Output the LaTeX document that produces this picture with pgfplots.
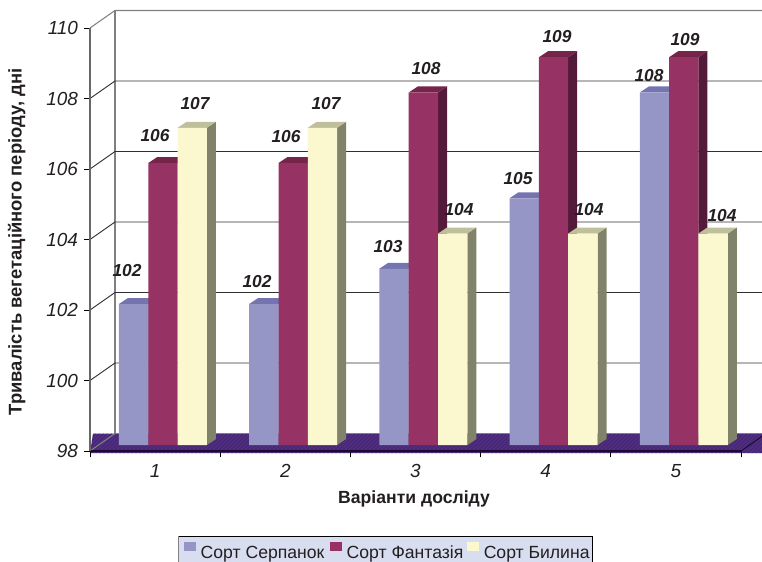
\documentclass[border=0pt]{standalone}
\usepackage{pgfplots}
\pgfplotsset{compat=1.18}
\usepackage{fontspec}
\usetikzlibrary{patterns}
\setmainfont{Liberation Sans}
\definecolor{txt}{HTML}{231F20}
\definecolor{bluef}{HTML}{9595C6}
\definecolor{bluet}{HTML}{7474B0}
\definecolor{blues}{HTML}{6F6F99}
\definecolor{magf}{HTML}{963264}
\definecolor{magt}{HTML}{742549}
\definecolor{mags}{HTML}{531A3A}
\definecolor{yelf}{HTML}{FBF8D0}
\definecolor{yelt}{HTML}{BFBF9C}
\definecolor{yels}{HTML}{80826A}
\definecolor{floorc}{HTML}{4F2E80}
\definecolor{floorm}{HTML}{422270}
\definecolor{floord}{HTML}{1A0A30}
\definecolor{wall}{HTML}{808080}
\definecolor{gridc}{HTML}{303030}
\definecolor{legbg}{HTML}{D8DEF0}
\pgfmathsetmacro\bw{0.2253}
\pgfmathsetmacro\ddx{0.0691}
\pgfmathsetmacro\ddy{0.1702}
\pgfplotsset{faceshift/.style={xshift=5.9pt,yshift=4.5pt}}
\newcommand\barfaces[5]{%
 \pgfmathsetmacro\xl{#1+(#2-0.5)*\bw}%
 \pgfmathsetmacro\xr{#1+(#2+0.5)*\bw}%
 \pgfmathsetmacro\xlb{\xl+\ddx}%
 \pgfmathsetmacro\xrb{\xr+\ddx}%
 \pgfmathsetmacro\ybb{98+\ddy}%
 \pgfmathsetmacro\ytb{#3+\ddy}%
 \edef\temp{\noexpand\addplot[draw=none,fill=#5,forget plot,faceshift] coordinates {(\xr,98) (\xrb,\ybb) (\xrb,\ytb) (\xr,#3)};
 \noexpand\addplot[draw=none,fill=#4,forget plot,faceshift] coordinates {(\xl,#3) (\xlb,\ytb) (\xrb,\ytb) (\xr,#3)};}\temp}
\newcommand\seriesbars[9]{%
 \barfaces{1}{#1}{#2}{#7}{#8}\barfaces{2}{#1}{#3}{#7}{#8}\barfaces{3}{#1}{#4}{#7}{#8}\barfaces{4}{#1}{#5}{#7}{#8}\barfaces{5}{#1}{#6}{#7}{#8}%
 \pgfmathsetmacro\shiftpt{22*#1}%
 \edef\temp{\noexpand\addplot[ybar,bar width=22pt,bar shift=\shiftpt pt,draw=none,fill=#9,faceshift,
   legend image code/.code={\noexpand\fill[#9] (0,-4.5pt) rectangle (9pt,4.5pt);}]
   coordinates {(1,#2) (2,#3) (3,#4) (4,#5) (5,#6)};}\temp}
\begin{document}
\begin{tikzpicture}
\useasboundingbox (0,0) rectangle (571.5pt,420.75pt);
\begin{scope}[x=0.75pt,y=-0.75pt,yshift=420.75pt]
\fill[legbg] (178.5,536) rectangle (592,570);
\draw[black,line width=0.6pt] (178.5,536) -- (592,536) -- (592,570);
\draw[wall,line width=0.8pt] (178.5,536) -- (178.5,570);
\end{scope}
\begin{axis}[
  at={(67.5pt,82.5pt)}, anchor=south west,
  scale only axis, width=488.25pt, height=317.25pt,
  xmin=0.5, xmax=5.5, ymin=98, ymax=110,
  clip=false, axis on top,
  axis x line=bottom, axis y line=left,
  axis line style={-},
  x axis line style={floord,line width=1.2pt},
  y axis line style={wall!80!black,line width=1.5pt},
  xtick={0.5,1.5,2.5,3.5,4.5,5.5},
  xticklabels={1,2,3,4,5},
  x tick label as interval,
  ytick={98,100,...,110},
  tick align=outside, major tick length=4.8pt,
  tick style={black,line width=0.7pt},
  /pgf/number format/assume math mode=true,
  ticklabel style={font=\fontsize{14.2}{16}\selectfont\itshape,text=txt},
  x tick label style={yshift=-1.5pt},
  y tick label style={xshift=-0.7pt},
  xlabel={Варіанти досліду},
  ylabel={Тривалість вегетаційного періоду, дні},
  xlabel style={font=\fontsize{13.2}{15}\selectfont\bfseries,text=txt,at={(axis description cs:0.4977,-0.1145)},anchor=center},
  ylabel style={font=\fontsize{13.8}{15}\selectfont\bfseries,text=txt,at={(axis description cs:-0.1125,0.494)},anchor=center},
  legend style={at={(axis description cs:0.1359,-0.2009)},anchor=north west,
    legend columns=3,fill=none,draw=none,
    font=\fontsize{13.2}{15}\selectfont,text=txt,
    inner xsep=4.25pt,inner ysep=4pt,
    /tikz/column 1/.style={column sep=1.75pt},
    /tikz/column 2/.style={column sep=3pt},
    /tikz/column 3/.style={column sep=1.75pt},
    /tikz/column 4/.style={column sep=1.5pt},
    /tikz/column 5/.style={column sep=1.75pt},
    nodes={inner xsep=1.5pt,inner ysep=1pt}},
  legend cell align=left,
]
% floor
\addplot[draw=none,fill=floorc,forget plot] coordinates {(0.5,97.94) (0.523,98.496) (5.73,98.496) (5.73,97.94)};
\addplot[draw=none,pattern=north east lines,pattern color=floorm,forget plot] coordinates {(0.5,97.94) (0.523,98.496) (5.73,98.496) (5.73,97.94)};
% back wall
\addplot[wall,line width=0.8pt,forget plot] coordinates {(0.5,110) (0.692,110.4965) (5.73,110.4965)};
\addplot[wall,line width=0.8pt,forget plot] coordinates {(0.692,110.4965) (0.692,98.4965) (5.73,98.4965)};
\addplot[wall,line width=0.8pt,forget plot] coordinates {(0.5,98) (0.692,98.4965)};
\addplot[floord,line width=0.7pt,forget plot] coordinates {(5.5,98) (5.692,98.4965)};
\addplot[gridc,line width=0.7pt,forget plot] coordinates {(0.5,100) (0.692,100.4965) (5.73,100.4965)};
\addplot[gridc,line width=0.7pt,forget plot] coordinates {(0.5,102) (0.692,102.4965) (5.73,102.4965)};
\addplot[gridc,line width=0.7pt,forget plot] coordinates {(0.5,104) (0.692,104.4965) (5.73,104.4965)};
\addplot[gridc,line width=0.7pt,forget plot] coordinates {(0.5,106) (0.692,106.4965) (5.73,106.4965)};
\addplot[gridc,line width=0.7pt,forget plot] coordinates {(0.5,108) (0.692,108.4965) (5.73,108.4965)};
% bars
\seriesbars{-1}{102}{102}{103}{105}{108}{bluet}{blues}{bluef}
\seriesbars{0}{106}{106}{108}{109}{109}{magt}{mags}{magf}
\seriesbars{1}{107}{107}{104}{104}{104}{yelt}{yels}{yelf}
\legend{Сорт Серпанок,Сорт Фантазія,Сорт Билина}
\end{axis}
\begin{scope}[x=0.75pt,y=-0.75pt,yshift=420.75pt,
  every node/.style={font=\fontsize{13}{15}\selectfont\bfseries\itshape,text=txt,inner sep=0pt}]
\foreach \px/\py/\t in {127/271/102,155/136/106,195/104/107,257/282/102,286/137/106,326/104/107,
  388/247/103,426/69/108,459/210/104,518/179/105,557/37/109,589/210/104,649/76/108,685/40/109,722/216/104}
  \node at (\px,\py) {\t};
\end{scope}
\end{tikzpicture}
\end{document}
